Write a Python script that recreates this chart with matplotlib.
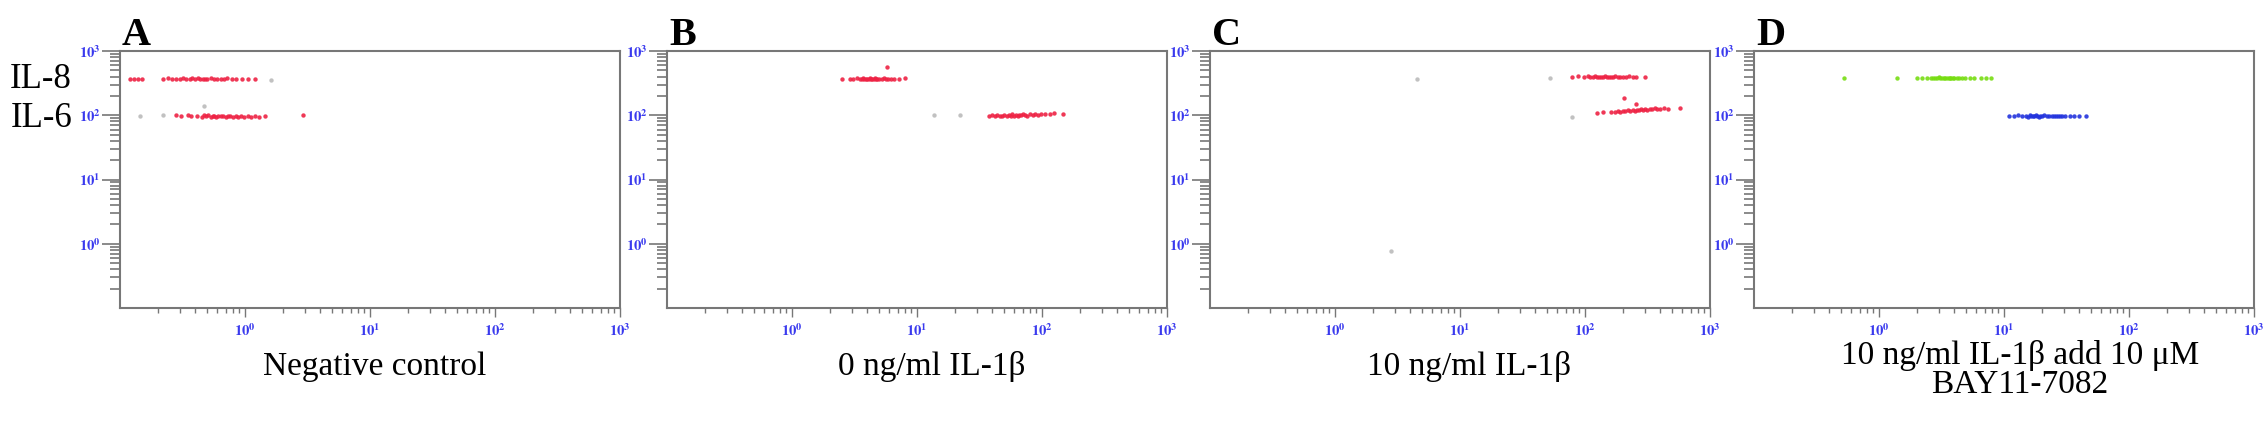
import numpy as np
import matplotlib.pyplot as plt
from matplotlib.transforms import ScaledTranslation

plt.rcParams['font.family'] = ['Liberation Serif', 'DejaVu Serif']
plt.rcParams['mathtext.fontset'] = 'stix'

# panel letters, conditions (one list of lines per panel), row names
panels = ['A', 'B', 'C', 'D']
conditions = [['Negative control'], ['0 ng/ml IL-1β'], ['10 ng/ml IL-1β'],
              ['10 ng/ml IL-1β add 10 μM', 'BAY11-7082']]
row_labels = ['IL-8', 'IL-6']
major_ticks = [1, 10, 100, 1000]
tick_labels = [r'$\mathbf{10^{0}}$', r'$\mathbf{10^{1}}$', r'$\mathbf{10^{2}}$', r'$\mathbf{10^{3}}$']

# A - negative control
a_il8_x = [0.12, 0.13, 0.14, 0.15, 0.22, 0.24, 0.26, 0.28, 0.30, 0.32, 0.34, 0.36, 0.38, 0.40, 0.42,
           0.44, 0.46, 0.48, 0.50, 0.53, 0.56, 0.60, 0.64, 0.68, 0.72, 0.78, 0.85, 0.95, 1.05, 1.2]
a_il8_y = [370, 368, 372, 369, 366, 374, 370, 363, 372, 378, 368, 362, 374, 370, 380,
           366, 373, 368, 361, 376, 371, 365, 372, 368, 374, 370, 367, 372, 369, 371]
a_il6_x = [0.28, 0.31, 0.35, 0.37, 0.41, 0.45, 0.47, 0.49, 0.51, 0.53, 0.55, 0.57, 0.59, 0.61, 0.64,
           0.67, 0.70, 0.73, 0.76, 0.80, 0.84, 0.88, 0.93, 0.98, 1.05, 1.12, 1.2, 1.3, 1.45, 2.9]
a_il6_y = [100, 98, 101, 97, 99, 95, 100, 96, 102, 94, 98, 97, 95, 99, 96,
           97, 94, 98, 96, 95, 97, 94, 96, 95, 97, 94, 96, 95, 96, 101]
a_gray_x = [0.145, 0.22, 0.47, 1.6]
a_gray_y = [98, 100, 140, 360]

# B - 0 ng/ml IL-1b
b_il8_x = [2.5, 2.9, 3.1, 3.3, 3.5, 3.6, 3.7, 3.8, 3.9, 4.0, 4.1, 4.2, 4.3, 4.4, 4.5, 4.6, 4.7, 4.8,
           5.0, 5.2, 5.4, 5.6, 5.8, 5.9, 6.2, 6.6, 7.2, 8.0]
b_il8_y = [368, 372, 366, 374, 370, 364, 376, 368, 372, 362, 370, 378, 366, 372, 368, 375, 364, 370,
           372, 366, 374, 368, 560, 370, 366, 372, 368, 374]
b_il6_x = [38, 40, 42, 44, 46, 48, 50, 52, 54, 56, 58, 60, 62, 64, 66, 68, 70, 73, 76, 80,
           84, 88, 93, 98, 105, 115, 125, 148]
b_il6_y = [98, 100, 97, 101, 99, 96, 102, 98, 100, 97, 103, 99, 101, 98, 102, 100, 104, 101, 99, 103,
           101, 105, 102, 104, 106, 103, 107, 105]
b_gray_x = [13.7, 22]
b_gray_y = [100, 100]

# C - 10 ng/ml IL-1b
c_il8_x = [79, 88, 98, 105, 110, 115, 120, 125, 130, 135, 140, 145, 150, 155, 160, 168, 175, 183,
           192, 200, 212, 225, 240, 255, 300]
c_il8_y = [398, 402, 394, 408, 396, 390, 404, 398, 392, 400, 396, 406, 394, 400, 390, 398, 404, 395,
           400, 392, 398, 404, 396, 400, 394]
c_il6_x = [125, 140, 160, 175, 185, 190, 200, 204, 210, 220, 230, 240, 250, 258, 260, 270, 280, 290,
           300, 315, 330, 345, 360, 380, 400, 430, 460, 575]
c_il6_y = [110, 112, 114, 112, 116, 113, 117, 186, 115, 119, 116, 120, 118, 150, 122, 119, 124, 121,
           125, 122, 126, 124, 128, 125, 127, 129, 126, 132]
c_gray_x = [4.5, 52, 79, 2.8]
c_gray_y = [367, 380, 94, 0.78]

# D - 10 ng/ml IL-1b + BAY11-7082
d_il8_x = [0.52, 1.4, 2.0, 2.2, 2.4, 2.6, 2.7, 2.8, 2.9, 3.0, 3.1, 3.2, 3.3, 3.4, 3.5, 3.6, 3.7, 3.8,
           3.9, 4.0, 4.2, 4.4, 4.6, 4.9, 5.3, 5.8, 6.5, 7.2, 7.9]
d_il8_y = [380, 382, 384, 378, 386, 380, 376, 384, 378, 388, 380, 374, 386, 380, 376, 384, 378, 382,
           374, 380, 384, 378, 382, 380, 384, 380, 382, 378, 380]
d_il6_x = [11, 12, 13, 14, 15, 15.5, 16, 16.5, 17, 17.5, 18, 18.5, 19, 19.5, 20, 21, 22, 23, 24, 25,
           26, 27, 28, 29, 31, 34, 36, 40, 45]
d_il6_y = [98, 96, 100, 97, 99, 95, 101, 97, 99, 96, 100, 98, 95, 99, 97, 100, 96, 98, 99, 96,
           98, 97, 99, 96, 98, 97, 99, 96, 98]

panel_points = [
    [(a_il8_x, a_il8_y, '#ee2244'), (a_il6_x, a_il6_y, '#ee2244'), (a_gray_x, a_gray_y, '#bbbbbb')],
    [(b_il8_x, b_il8_y, '#ee2244'), (b_il6_x, b_il6_y, '#ee2244'), (b_gray_x, b_gray_y, '#bbbbbb')],
    [(c_il8_x, c_il8_y, '#ee2244'), (c_il6_x, c_il6_y, '#ee2244'), (c_gray_x, c_gray_y, '#bbbbbb')],
    [(d_il8_x, d_il8_y, '#77dd11'), (d_il6_x, d_il6_y, '#2233dd')],
]

W, H = 2268, 423
fig = plt.figure(figsize=(W / 100, H / 100), dpi=100)

lefts = [120, 667, 1210, 1754]
label_centers = [375, 932, 1469, 2020]
top, bottom = 51, 308
spine_col = '#777777'
tick_col = '#3a3aee'
down = ScaledTranslation(0, -0.13, fig.dpi_scale_trans)

for i in range(4):
    ax = fig.add_axes([lefts[i] / W, (H - bottom) / H, 500 / W, (bottom - top) / H])
    for xs, ys, col in panel_points[i]:
        ax.scatter(xs, ys, s=10, color=col, linewidths=0, alpha=0.9)
    ax.set_xscale('log')
    ax.set_yscale('log')
    ax.set_xlim(0.1, 1000)
    ax.set_ylim(0.1, 1000)
    ax.set_xticks(major_ticks)
    ax.set_yticks(major_ticks)
    ax.set_xticklabels(tick_labels, color=tick_col, fontsize=10.5)
    ax.set_yticklabels(tick_labels, color=tick_col, fontsize=10.5)
    for lab in ax.get_yticklabels():
        lab.set_transform(lab.get_transform() + down)
    for sp in ax.spines.values():
        sp.set_color(spine_col)
        sp.set_linewidth(1.5)
    ax.tick_params(axis='y', which='major', length=13, width=1.2, color=spine_col, pad=1)
    ax.tick_params(axis='y', which='minor', length=7, width=1.2, color=spine_col)
    ax.tick_params(axis='x', which='major', length=6.5, width=1.0, color=spine_col, pad=4)
    ax.tick_params(axis='x', which='minor', length=3.5, width=1.0, color=spine_col)

    fig.text((lefts[i] + 2) / W, (H - 45) / H, panels[i], fontsize=29, fontweight='bold',
             ha='left', va='baseline')
    lines = conditions[i]
    base = 375 if len(lines) == 1 else 364
    for k, line in enumerate(lines):
        fig.text(label_centers[i] / W, (H - base - 29 * k) / H, line, fontsize=24,
                 ha='center', va='baseline')

fig.text(72 / W, (H - 88) / H, row_labels[0], fontsize=25, ha='right', va='baseline')
fig.text(72 / W, (H - 127) / H, row_labels[1], fontsize=25, ha='right', va='baseline')

plt.savefig('out.png', dpi=100)
